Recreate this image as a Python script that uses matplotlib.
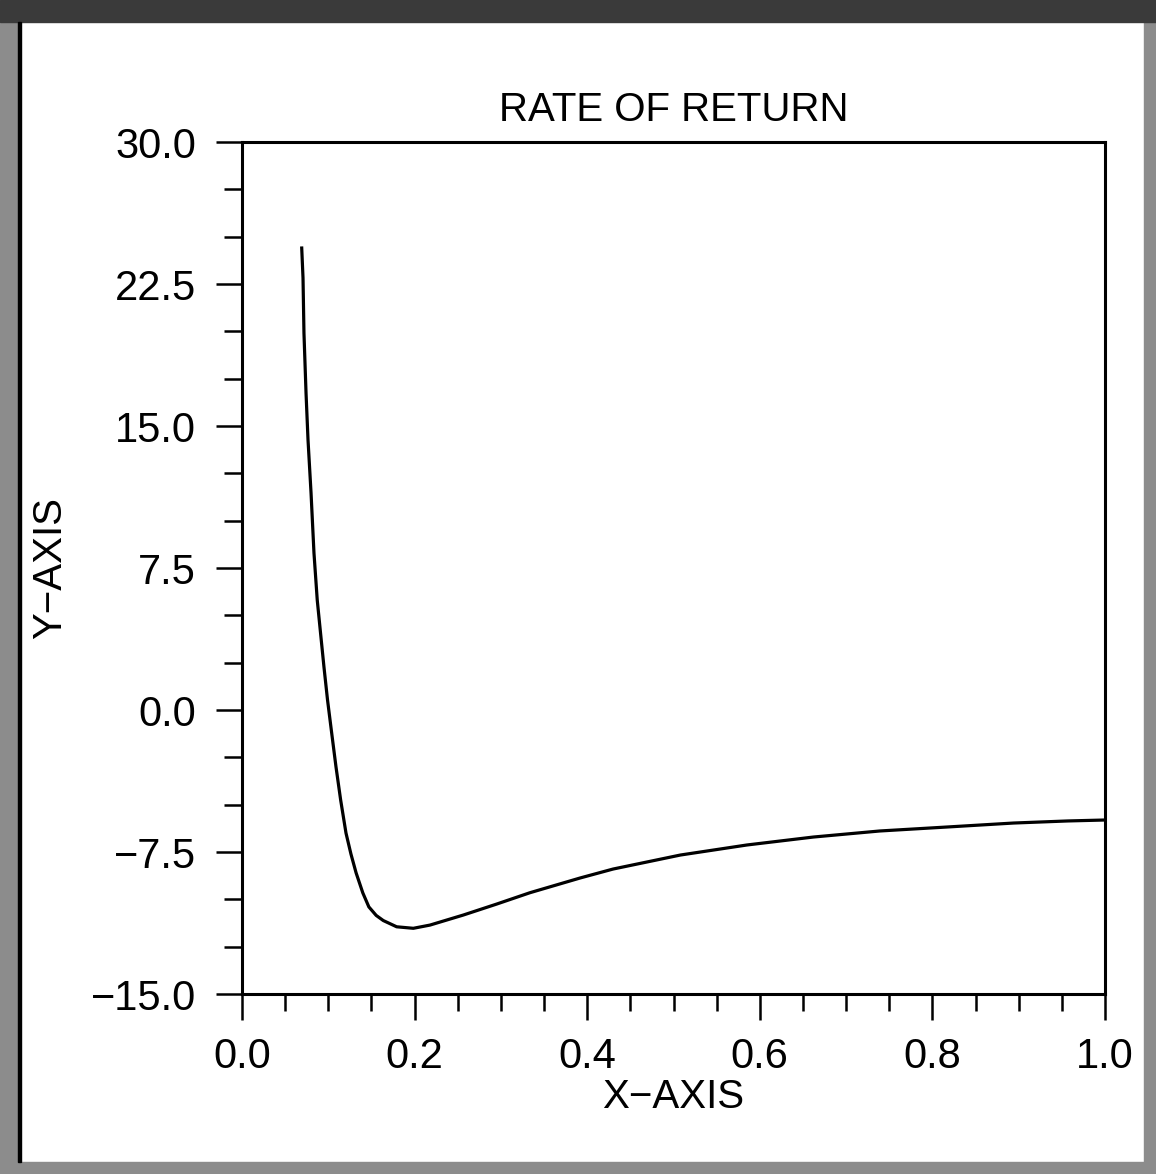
import matplotlib.pyplot as plt
from matplotlib.patches import Rectangle
from matplotlib.ticker import MultipleLocator

# values
x_vals = [0.0692, 0.0707, 0.0718, 0.0742, 0.0765, 0.0800, 0.0834, 0.0872,
          0.0910, 0.0950, 0.0991, 0.1039, 0.1089, 0.1143, 0.1205, 0.1262,
          0.1322, 0.1400, 0.1470, 0.1555, 0.1637, 0.1792, 0.1985, 0.2178,
          0.2564, 0.2951, 0.3337, 0.3920, 0.4300, 0.5080, 0.5850, 0.6620,
          0.7390, 0.8170, 0.8940, 0.9570, 1.0000]
y_vals = [24.40, 22.82, 19.91, 16.74, 14.26, 11.46, 8.29, 5.80,
          4.07, 2.26, 0.53, -1.21, -3.00, -4.75, -6.50, -7.60,
          -8.60, -9.66, -10.40, -10.85, -11.12, -11.45, -11.53, -11.36,
          -10.83, -10.25, -9.65, -8.87, -8.40, -7.66, -7.13, -6.71,
          -6.39, -6.18, -5.97, -5.86, -5.81]

title = "RATE OF RETURN"
x_label = "X\u2212AXIS"
y_label = "Y\u2212AXIS"

plt.rcParams['font.family'] = ['Liberation Sans', 'DejaVu Sans']

W, H = 1156, 1174
fig = plt.figure(figsize=(W / 100, H / 100), dpi=100)

# window frame (dithered border of the old screen grab, drawn as grey)
frame = [
    (0, 0, 20, H, '#8c8c8c'),
    (W - 12, 0, 12, H, '#8c8c8c'),
    (0, H - 22, W, 22, '#3a3a3a'),
    (0, 0, W, 12, '#8c8c8c'),
]
for fx, fy, fw, fh, col in frame:
    fig.patches.append(Rectangle((fx / W, fy / H), fw / W, fh / H,
                                 transform=fig.transFigure, color=col, zorder=0))
fig.patches.append(Rectangle((18 / W, 12 / H), 3 / W, (H - 34) / H,
                             transform=fig.transFigure, color='black', zorder=1))

ax = fig.add_axes([242 / W, (H - 994) / H, (1105 - 242) / W, (994 - 142) / H])
ax.plot(x_vals, y_vals, color='black', lw=2.3, solid_joinstyle='round')

ax.set_xlim(0, 1.0)
ax.set_ylim(-15, 30)
ax.xaxis.set_major_locator(MultipleLocator(0.2))
ax.xaxis.set_minor_locator(MultipleLocator(0.05))
ax.yaxis.set_major_locator(MultipleLocator(7.5))
ax.yaxis.set_minor_locator(MultipleLocator(2.5))
ax.xaxis.set_major_formatter(lambda v, p: f"{v:.1f}".replace('-', '\u2212'))
ax.yaxis.set_major_formatter(lambda v, p: f"{v:.1f}".replace('-', '\u2212'))

ax.tick_params(axis='both', which='both', direction='out', width=1.8,
               colors='black', labelsize=30)
ax.tick_params(axis='y', which='major', length=19, pad=14)
ax.tick_params(axis='y', which='minor', length=13)
ax.tick_params(axis='x', which='major', length=19, pad=12)
ax.tick_params(axis='x', which='minor', length=12)
for s in ax.spines.values():
    s.set_linewidth(2.2)

ax.set_title(title, fontsize=29, pad=15)
ax.set_xlabel(x_label, fontsize=29, labelpad=1)
ax.set_ylabel(y_label, fontsize=29, labelpad=16)

fig.savefig("out.png", dpi=100)
